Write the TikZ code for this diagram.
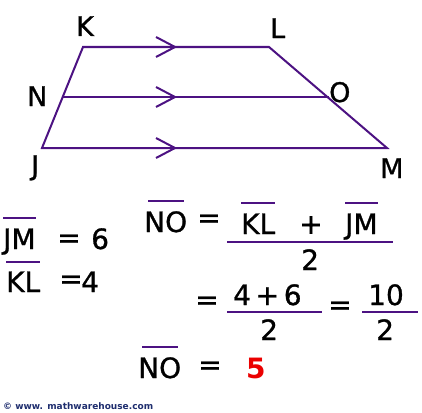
\documentclass[tikz,border=0pt]{standalone}
\usepackage{fontspec}
\setmainfont{DejaVu Sans}
\newfontfamily\heavyfont[FakeBold=1]{DejaVu Sans}
\usetikzlibrary{calc}
\definecolor{ln}{RGB}{76,18,130}
\definecolor{cpy}{RGB}{30,45,110}
\definecolor{five}{RGB}{235,0,0}
\tikzset{
  seg/.style={draw=ln, line width=2pt, line join=miter},
  ol/.style={draw=ln, line width=2pt},
  lbl/.style={inner sep=0pt, anchor=base west, font=\heavyfont\fontsize{27}{30}\selectfont},
  eq/.style={inner sep=0pt, anchor=base west, font=\heavyfont\fontsize{28}{32}\selectfont},
  eqs/.style={inner sep=0pt, anchor=center, font=\heavyfont\fontsize{28}{32}\selectfont},
}
\begin{document}
\begin{tikzpicture}[x=1pt,y=-1pt]
\useasboundingbox (0,0) rectangle (422,412);
% trapezoid vertices
\coordinate (K) at (83,47);
\coordinate (L) at (269,47);
\coordinate (M) at (387,148);
\coordinate (J) at (42,148);
\coordinate (N) at (63,97);
\coordinate (O) at (329,97);
\coordinate (t1) at (175,47);
\coordinate (t2) at (175,97);
\coordinate (t3) at (175,148);
\draw[seg] (J) -- (K) -- (L) -- (M) -- cycle;
\draw[seg] (N) -- (O);
\foreach \t in {t1,t2,t3}
  \draw[seg] ($(\t)+(-19,-10)$) -- (\t) -- ($(\t)+(-19,10)$);
% vertex labels
\node[lbl] (lK) at (76,36) {K};
\node[lbl] (lL) at (270,38) {L};
\node[lbl] (lN) at (27,106) {N};
\node[lbl] (lO) at (329,102) {O};
\node[lbl] (lJ) at (31,175) {J};
\node[lbl] (lM) at (380,178) {M};
% given values
\node[eq] (jm) at (3,249) {JM};
\node[eqs] (jmeq) at (69,241) {=};
\node[eq] (six) at (91,249) {6};
\draw[ol] ([yshift=10pt]jm.north west) -- ([yshift=10pt]jm.north east);
\node[eq] (kl) at (6,292) {KL};
\node[eqs] (kleq) at (71,282) {=};
\node[eq] (four) at (81,292) {4};
\draw[ol] ([yshift=9pt]kl.north west) -- ([yshift=9pt]kl.north east);
% first equation
\node[eq] (no1) at (144,232) {NO};
\node[eqs] (eq1) at (209,221) {=};
\node[eq] (kl2) at (241,234) {KL};
\node[eqs] (plus1) at (311,225) {+};
\node[eq] (jm2) at (345,234) {JM};
\coordinate (f1a) at (227,242);
\coordinate (f1b) at (393,242);
\draw[ol] (f1a) -- (f1b);
\node[eq] (two1) at (301,270) {2};
\draw[ol] ([yshift=10pt,xshift=4pt]no1.north west) -- ([yshift=10pt,xshift=-3pt]no1.north east);
\draw[ol] ([yshift=10pt]kl2.north west) -- ([yshift=10pt]kl2.north east);
\draw[ol] ([yshift=10pt]jm2.north west) -- ([yshift=10pt]jm2.north east);
% second equation
\node[eqs] (eq2) at (207,303) {=};
\node[eq] (num2) at (233,305) {4\,+\,6};
\coordinate (f2a) at (227,312);
\coordinate (f2b) at (322,312);
\draw[ol] (f2a) -- (f2b);
\node[eq] (two2) at (260,340) {2};
\node[eqs] (eq3) at (340,308) {=};
\node[eq] (ten) at (368,305) {10};
\coordinate (f3a) at (362,312);
\coordinate (f3b) at (418,312);
\draw[ol] (f3a) -- (f3b);
\node[eq] (two3) at (376,340) {2};
% result
\node[eq] (no2) at (138,378) {NO};
\node[eqs] (eq4) at (210,368) {=};
\node[eq, text=five, font=\fontsize{28}{32}\selectfont\bfseries] (res) at (246,378) {5};
\draw[ol] ([yshift=10pt,xshift=4pt]no2.north west) -- ([yshift=10pt,xshift=-3pt]no2.north east);
% copyright
\node[inner sep=0pt, anchor=base west, text=cpy, font=\fontsize{9}{11}\selectfont\bfseries] (copy) at (3,409) {© www. mathwarehouse.com};
\end{tikzpicture}
\end{document}
